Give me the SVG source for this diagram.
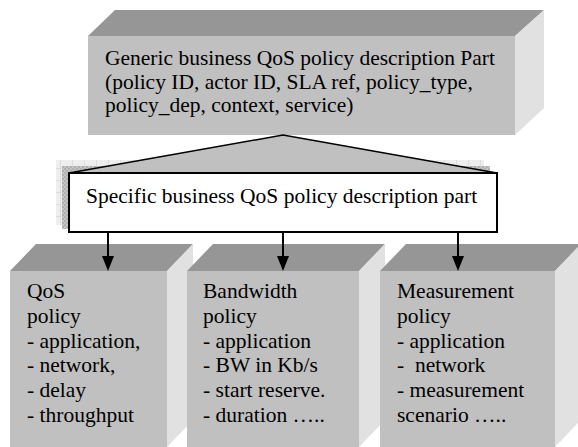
<svg xmlns="http://www.w3.org/2000/svg" width="578" height="447" viewBox="0 0 578 447">
<style>
.front{fill:#c0c0c0}
.top{fill:#969696}
.side{fill:#e1e1e1}
.t{font-family:"Liberation Serif","Times New Roman",serif;font-size:21.5px;fill:#000;white-space:pre}
.conn{stroke:#000;stroke-width:2;fill:none}
.head{fill:#000}
</style>
<defs>
<pattern id="pl" width="12" height="12" patternUnits="userSpaceOnUse">
<rect width="12" height="12" fill="#eeeeee"/>
<path d="M0 0.5H12M0.5 0V12" stroke="#dcdcdc" stroke-width="1"/>
</pattern>
<pattern id="pd" width="4" height="4" patternUnits="userSpaceOnUse">
<rect width="4" height="4" fill="#c4c4c4"/>
<rect width="2" height="2" fill="#b0b0b0"/>
<rect x="2" y="2" width="2" height="2" fill="#b0b0b0"/>
</pattern>
</defs>
<rect width="578" height="447" fill="#fff"/>

<g id="generic">
<rect class="front" x="88" y="36" width="427" height="99"/>
<polygon class="top" points="88,36 115,10 544,10 515,36"/>
<polygon class="side" points="515,36 544,10 544,108 515,135"/>
<text class="t" x="105" y="65">Generic business QoS policy description Part</text>
<text class="t" x="105" y="88.5">(policy ID, actor ID, SLA ref, policy_type,</text>
<text class="t" x="105" y="112">policy_dep, context, service)</text>
</g>

<g id="specific">
<rect x="56" y="160" width="428" height="65" fill="url(#pl)"/>
<rect x="62" y="166" width="428" height="63" fill="url(#pd)"/>
<polygon points="283,135 69,173 497,173" fill="#c0c0c0" stroke="#000" stroke-width="1.5" stroke-linejoin="miter"/>
<rect x="69" y="173" width="428" height="59" fill="#fff" stroke="#000" stroke-width="2"/>
<text class="t" x="86" y="203">Specific business QoS policy description part</text>
</g>

<g id="qos">
<rect class="front" x="10" y="271" width="157" height="176"/>
<polygon class="top" points="10,271 36,244 193,244 167,271"/>
<polygon class="side" points="167,271 193,244 193,420 167,447"/>
<text class="t" x="27" y="298">QoS</text>
<text class="t" x="27" y="323">policy</text>
<text class="t" x="27" y="348">- application,</text>
<text class="t" x="27" y="372">- network,</text>
<text class="t" x="27" y="397">- delay</text>
<text class="t" x="27" y="422">- throughput</text>
</g>

<g id="bandwidth">
<rect class="front" x="187" y="271" width="172" height="176"/>
<polygon class="top" points="187,271 213,244 385,244 359,271"/>
<polygon class="side" points="359,271 385,244 385,420 359,447"/>
<text class="t" x="203" y="298">Bandwidth</text>
<text class="t" x="203" y="323">policy</text>
<text class="t" x="203" y="348">- application</text>
<text class="t" x="203" y="372">- BW in Kb/s</text>
<text class="t" x="203" y="397">- start reserve.</text>
<text class="t" x="203" y="422">- duration …..</text>
</g>

<g id="measurement">
<rect class="front" x="380" y="271" width="175" height="176"/>
<polygon class="top" points="380,271 406,244 581,244 555,271"/>
<polygon class="side" points="555,271 581,244 581,420 555,447"/>
<text class="t" x="397" y="298">Measurement</text>
<text class="t" x="397" y="323">policy</text>
<text class="t" x="397" y="348">- application</text>
<text class="t" x="397" y="372">-  network</text>
<text class="t" x="397" y="397">- measurement</text>
<text class="t" x="397" y="422">scenario …..</text>
</g>

<g id="connectors">
<line class="conn" x1="108" y1="232" x2="108" y2="258"/>
<polygon class="head" points="102,256 114,256 108,271"/>
<line class="conn" x1="283" y1="232" x2="283" y2="258"/>
<polygon class="head" points="277,256 289,256 283,271"/>
<line class="conn" x1="458" y1="232" x2="458" y2="258"/>
<polygon class="head" points="452,256 464,256 458,271"/>
</g>
</svg>
